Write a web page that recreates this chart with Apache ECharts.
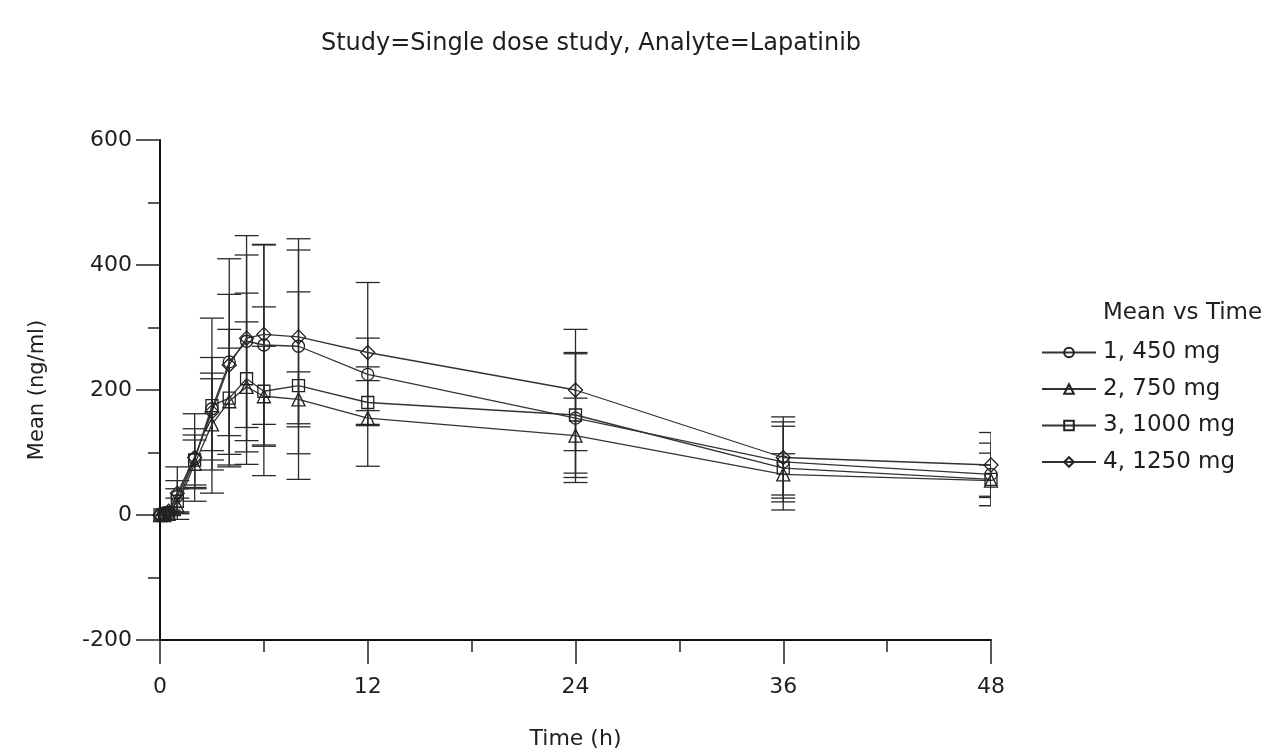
<!DOCTYPE html>
<html>
<head>
<meta charset="utf-8">
<script src="https://cdn.jsdelivr.net/npm/echarts@6/dist/echarts.min.js"></script>
<style>
  html, body { margin: 0; padding: 0; background: #fff; }
  #chart { width: 1280px; height: 755px; }
</style>
</head>
<body>
<div id="chart"></div>
<script>
  // sampling times (h)
  var times = [0, 0.25, 0.5, 1, 2, 3, 4, 5, 6, 8, 12, 24, 36, 48]
  var xTicks = [0, 12, 24, 36, 48]
  var yTicks = [-200, 0, 200, 400, 600]

  var seriesNames = ['1, 450 mg', '2, 750 mg', '3, 1000 mg', '4, 1250 mg']
  var symbols = ['circle', 'triangle', 'rect', 'diamond']

  // mean concentration (ng/ml)
  var mean450 = [0, 1, 4, 30, 90, 170, 245, 278, 272, 270, 225, 155, 85, 65]
  var mean750 = [0, 0, 2, 15, 82, 145, 182, 205, 190, 185, 155, 127, 65, 55]
  var mean1000 = [0, 1, 3, 22, 88, 175, 187, 218, 198, 207, 180, 160, 75, 57]
  var mean1250 = [0, 2, 6, 35, 92, 165, 240, 283, 289, 285, 260, 200, 92, 80]

  // standard deviation (ng/ml)
  var sd450 = [0, 1, 4, 25, 48, 82, 165, 138, 160, 172, 147, 103, 64, 50]
  var sd750 = [0, 0, 3, 12, 38, 73, 85, 104, 80, 44, 12, 60, 33, 25]
  var sd1000 = [0, 1, 3, 20, 40, 140, 110, 137, 135, 150, 35, 100, 67, 42]
  var sd1250 = [0, 2, 6, 42, 70, 62, 113, 164, 144, 139, 23, 97, 65, 52]

  var means = [mean450, mean750, mean1000, mean1250]
  var sds = [sd450, sd750, sd1000, sd1250]

  var FONT = 'DejaVu Sans'
  var TXT = '#1e1e1e'

  const myChart = echarts.init(document.getElementById('chart'))

  // 误差线 (error bars)
  function errorBarItem(params, api) {
    var x = api.value(0)
    var lo = api.coord([x, api.value(1)])
    var hi = api.coord([x, api.value(2)])
    var half = 12
    var style = { stroke: '#2a2a2a', lineWidth: 1.3 }
    return {
      type: 'group',
      children: [
        { type: 'line', shape: { x1: lo[0], y1: lo[1], x2: hi[0], y2: hi[1] }, style: style },
        { type: 'line', shape: { x1: lo[0] - half, y1: lo[1], x2: lo[0] + half, y2: lo[1] }, style: style },
        { type: 'line', shape: { x1: hi[0] - half, y1: hi[1], x2: hi[0] + half, y2: hi[1] }, style: style }
      ]
    }
  }

  var series = []
  for (let s = 0; s < seriesNames.length; s++) {
    const errData = []
    const lineData = []
    for (let i = 0; i < times.length; i++) {
      lineData.push([times[i], means[s][i]])
      errData.push([times[i], means[s][i] - sds[s][i], means[s][i] + sds[s][i]])
    }
    series.push({
      type: 'custom',
      name: seriesNames[s] + ' sd',
      renderItem: errorBarItem,
      clip: true,
      silent: true,
      z: 1,
      data: errData
    })
    series.push({
      type: 'line',
      name: seriesNames[s],
      data: lineData,
      symbol: symbols[s],
      symbolSize: symbols[s] === 'diamond' ? 14 : (symbols[s] === 'triangle' ? 13 : 12),
      showAllSymbol: true,
      z: 3,
      lineStyle: { color: '#333', width: 1.3 },
      itemStyle: { color: 'rgba(255,255,255,0)', borderColor: '#222', borderWidth: 1.3 }
    })
  }

  var option = {
    animation: false,
    backgroundColor: '#fff',
    textStyle: { fontFamily: FONT },
    title: [{
      text: 'Study=Single dose study, Analyte=Lapatinib',
      left: 586,
      top: 27,
      textAlign: 'center',
      textStyle: { fontFamily: FONT, fontSize: 24, fontWeight: 'normal', color: TXT }
    }, {
      text: 'Mean vs Time',
      left: 1098,
      top: 297,
      textStyle: { fontFamily: FONT, fontSize: 23, fontWeight: 'normal', color: TXT }
    }],
    legend: {
      data: seriesNames,
      orient: 'vertical',
      left: 1036,
      top: 336,
      itemWidth: 54,
      itemHeight: 12,
      itemGap: 13.5,
      textStyle: { fontFamily: FONT, fontSize: 23, color: TXT, padding: [0, 0, 0, 2] }
    },
    grid: { left: 160, right: 289, top: 140, bottom: 113 },
    xAxis: {
      type: 'value',
      min: 0,
      max: 48,
      interval: 12,
      name: 'Time (h)',
      nameLocation: 'middle',
      nameGap: 88,
      nameTextStyle: { fontFamily: FONT, fontSize: 22, color: TXT },
      axisLine: { onZero: false, lineStyle: { color: '#111', width: 2 } },
      axisTick: { length: 24, lineStyle: { color: '#222', width: 1.5 } },
      minorTick: { show: true, splitNumber: 2, length: 12, lineStyle: { color: '#222', width: 1.5 } },
      axisLabel: {
        margin: 36, fontFamily: FONT, fontSize: 22, color: TXT,
        formatter: function (v) { return xTicks.indexOf(v) >= 0 ? String(v) : '' }
      },
      splitLine: { show: false }
    },
    yAxis: {
      type: 'value',
      min: -200,
      max: 600,
      interval: 200,
      name: 'Mean (ng/ml)',
      nameLocation: 'middle',
      nameGap: 112,
      nameTextStyle: { fontFamily: FONT, fontSize: 21, color: TXT },
      axisLine: { show: true, lineStyle: { color: '#111', width: 2 } },
      axisTick: { show: true, length: 24, lineStyle: { color: '#222', width: 1.5 } },
      minorTick: { show: true, splitNumber: 2, length: 12, lineStyle: { color: '#222', width: 1.5 } },
      axisLabel: {
        margin: 28, fontFamily: FONT, fontSize: 22, color: TXT,
        formatter: function (v) { return yTicks.indexOf(v) >= 0 ? String(v) : '' }
      },
      splitLine: { show: false }
    },
    series: series
  }

  myChart.setOption(option)
</script>
</body>
</html>
